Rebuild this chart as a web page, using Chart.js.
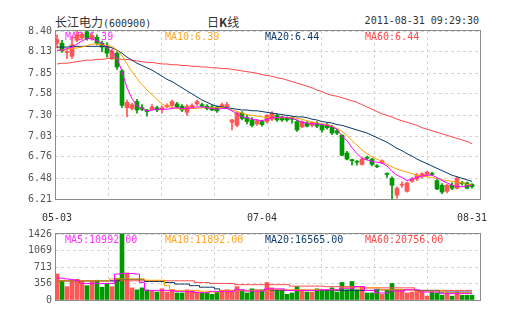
<!DOCTYPE html>
<html>
<head>
<meta charset="utf-8">
<script src="https://cdn.jsdelivr.net/npm/chart.js@4.4.1/dist/chart.umd.min.js"></script>
<style>
    body { margin: 0; background: #fff; width: 505px; height: 330px; overflow: hidden; position: relative; }
    #kbox { position: absolute; left: 0; top: 0; width: 505px; height: 225px; }
    #vbox { position: absolute; left: 0; top: 225px; width: 505px; height: 105px; }
    .t { position: absolute; color: #333; white-space: nowrap; line-height: 16px; }
    .cjk { font: 12px "Noto Sans CJK SC"; }
    .mono { font: 10px "DejaVu Sans Mono"; }
</style>
</head>
<body>
<div class="t cjk" style="left:55px; top:13px;">长江电力<span class="mono">(600900)</span></div>
<div class="t cjk" style="left:207px; top:13px;">日<b>K</b>线</div>
<div class="t mono" style="right:26px; top:15px;">2011-08-31 09:29:30</div>
<div id="kbox"><canvas id="kline"></canvas></div>
<div id="vbox"><canvas id="vol"></canvas></div>
<script>
// дневни свещи (05-03 .. 08-31)
const openP = [8.24,8.24,8.12,8.07,8.28,8.31,8.39,8.30,8.32,8.24, 8.20,8.05,8.11,7.88,7.40,7.39,7.48,7.40,7.37,7.38,
    7.40,7.38,7.41,7.43,7.45,7.42,7.34,7.41,7.45,7.44, 7.42,7.41,7.41,7.41,7.41,7.21,7.17,7.33,7.27,7.24,
    7.19,7.22,7.22,7.25,7.30,7.28,7.27,7.27,7.22,7.15, 7.20,7.17,7.20,7.17,7.18,7.15,7.10,7.04,6.81,6.72,
    6.70,6.66,6.75,6.73,6.64,6.68,6.54,6.48,6.26,6.39, 6.31,6.44,6.47,6.50,6.53,6.54,6.45,6.39,6.31,6.39,
    6.35,6.42,6.42,6.40];
const highP = [8.35,8.28,8.15,8.33,8.40,8.38,8.41,8.37,8.35,8.27, 8.25,8.16,8.13,7.90,7.50,7.46,7.51,7.44,7.38,7.44,
    7.42,7.42,7.45,7.50,7.47,7.44,7.44,7.45,7.50,7.46, 7.44,7.43,7.42,7.46,7.47,7.25,7.35,7.35,7.30,7.27,
    7.25,7.24,7.31,7.35,7.32,7.29,7.28,7.28,7.24,7.23, 7.22,7.22,7.22,7.18,7.20,7.17,7.12,7.05,6.83,6.73,
    6.71,6.75,6.77,6.74,6.66,6.72,6.55,6.50,6.37,6.43, 6.43,6.49,6.54,6.55,6.57,6.56,6.47,6.41,6.40,6.42,
    6.50,6.44,6.43,6.41];
const lowP = [8.18,8.12,8.04,8.04,8.26,8.29,8.28,8.28,8.22,8.13, 8.06,8.03,7.90,7.40,7.28,7.37,7.33,7.36,7.29,7.37,
    7.35,7.33,7.40,7.41,7.39,7.35,7.30,7.39,7.43,7.40, 7.37,7.36,7.34,7.39,7.40,7.11,7.15,7.24,7.19,7.15,
    7.17,7.16,7.20,7.23,7.22,7.22,7.22,7.20,7.09,7.14, 7.15,7.15,7.14,7.08,7.12,7.05,7.05,6.77,6.72,6.65,
    6.65,6.65,6.72,6.64,6.62,6.67,6.49,6.20,6.22,6.36, 6.30,6.43,6.45,6.48,6.51,6.52,6.33,6.28,6.29,6.33,
    6.34,6.39,6.34,6.35];
const closeP = [8.29,8.14,8.13,8.22,8.35,8.36,8.30,8.34,8.24,8.19, 8.11,8.14,7.93,7.43,7.47,7.44,7.37,7.38,7.35,7.41,
    7.37,7.40,7.43,7.48,7.41,7.37,7.42,7.43,7.48,7.42, 7.39,7.37,7.36,7.44,7.44,7.24,7.33,7.26,7.22,7.17,
    7.23,7.18,7.30,7.33,7.24,7.24,7.24,7.25,7.11,7.22, 7.16,7.21,7.16,7.11,7.14,7.07,7.07,6.78,6.73,6.71,
    6.69,6.73,6.74,6.66,6.63,6.71,6.53,6.39,6.35,6.40, 6.42,6.47,6.52,6.54,6.56,6.53,6.34,6.30,6.39,6.35,
    6.48,6.41,6.35,6.37];

// пълзящи средни на цената
const ma5 = [8.15,8.15,8.17,8.19,8.23,8.27,8.30,8.30,8.27,8.24, 8.18,8.13,8.05,7.87,7.66,7.52,7.42,7.39,7.36,7.37,
    7.38,7.38,7.38,7.39,7.40,7.39,7.39,7.40,7.41,7.41, 7.40,7.39,7.38,7.39,7.39,7.36,7.32,7.28,7.27,7.25,
    7.24,7.23,7.25,7.27,7.27,7.28,7.27,7.26,7.24,7.21, 7.20,7.19,7.19,7.18,7.17,7.15,7.12,7.03,6.97,6.88,
    6.80,6.74,6.72,6.70,6.69,6.68,6.64,6.57,6.52,6.49, 6.45,6.47,6.49,6.51,6.52,6.52,6.49,6.45,6.42,6.39,
    6.37,6.37,6.38,6.39];
const ma10 = [8.15,8.15,8.16,8.17,8.18,8.19,8.21,8.23,8.23,8.22, 8.21,8.20,8.15,8.08,7.97,7.87,7.78,7.70,7.63,7.57,
    7.51,7.45,7.42,7.40,7.39,7.38,7.39,7.39,7.39,7.40, 7.40,7.40,7.40,7.40,7.39,7.37,7.35,7.33,7.31,7.30,
    7.29,7.28,7.27,7.27,7.27,7.27,7.27,7.27,7.26,7.25, 7.23,7.21,7.20,7.19,7.18,7.16,7.13,7.09,7.04,6.97,
    6.91,6.85,6.80,6.76,6.73,6.70,6.66,6.63,6.60,6.58, 6.56,6.54,6.52,6.51,6.50,6.49,6.48,6.46,6.45,6.44,
    6.43,6.42,6.40,6.39];
const ma20 = [8.19,8.19,8.19,8.20,8.20,8.20,8.20,8.20,8.20,8.20, 8.20,8.18,8.15,8.11,8.06,8.02,7.98,7.95,7.92,7.89,
    7.85,7.81,7.77,7.74,7.70,7.66,7.62,7.58,7.54,7.50, 7.47,7.44,7.42,7.41,7.40,7.39,7.38,7.37,7.37,7.36,
    7.36,7.35,7.34,7.33,7.32,7.31,7.30,7.29,7.28,7.28, 7.27,7.25,7.24,7.22,7.21,7.20,7.18,7.17,7.15,7.13,
    7.11,7.09,7.07,7.04,7.01,6.98,6.95,6.91,6.87,6.84, 6.80,6.77,6.73,6.70,6.67,6.64,6.61,6.58,6.55,6.52,
    6.50,6.48,6.46,6.44];
const ma60 = [7.97,7.98,7.98,7.99,8.00,8.01,8.02,8.02,8.03,8.03, 8.04,8.04,8.04,8.03,8.03,8.02,8.01,8.00,7.99,7.99,
    7.98,7.97,7.97,7.96,7.96,7.95,7.95,7.94,7.94,7.93, 7.93,7.92,7.92,7.91,7.91,7.90,7.89,7.88,7.87,7.86,
    7.85,7.83,7.82,7.81,7.79,7.78,7.76,7.74,7.72,7.70, 7.68,7.66,7.63,7.61,7.58,7.56,7.55,7.53,7.51,7.49,
    7.47,7.44,7.41,7.38,7.35,7.32,7.30,7.28,7.25,7.23, 7.21,7.19,7.17,7.14,7.12,7.10,7.08,7.06,7.04,7.02,
    7.00,6.98,6.96,6.93];

// обем и средните му
const volume = [564,427,289,427,448,413,310,400,427,276, 358,289,468,1426,585,262,220,262,220,193,
    172,241,172,207,152,152,220,193,172,152, 152,124,172,207,220,172,289,220,152,241,
    220,220,379,262,220,220,124,152,289,220, 172,172,241,207,220,262,172,379,220,400,
    220,276,152,152,207,124,207,358,220,220, 152,172,207,207,83,172,152,103,138,83,
    172,103,103,103];
const volMa5 = [470,470,455,440,420,358,358,358,358,358, 358,358,560,572,572,572,560,380,207,207,
    207,207,207,207,186,186,186,186,159,159, 159,186,186,186,186,186,221,221,193,193,
    193,193,241,241,241,241,207,207,207,207, 207,207,207,221,221,221,221,255,255,255,
    289,289,207,207,152,152,152,193,193,193, 221,221,221,172,172,172,172,138,138,138,
    138,138,138,138];
const volMa10 = [413,413,413,413,413,413,413,413,413,413, 413,455,455,455,455,455,455,455,427,427,
    427,427,310,227,207,207,207,207,207,190, 190,172,172,207,207,207,207,207,207,207,
    207,207,207,221,221,221,221,221,221,221, 221,221,221,221,221,221,221,262,262,262,
    262,262,262,262,262,221,221,221,221,221, 221,221,193,193,193,193,193,193,152,152,
    152,152,152,152];
const volMa20 = [413,413,413,413,413,413,413,413,413,413, 413,413,413,448,448,448,448,448,400,400,
    400,400,378,378,345,345,345,310,310,276, 276,276,241,207,207,207,207,207,207,207,
    207,207,207,207,207,207,207,207,207,207, 207,207,207,207,207,207,207,207,207,207,
    207,207,207,207,221,221,221,221,221,221, 221,221,207,207,207,207,207,172,172,172,
    172,172,172,172];
const volMa60 = [415,415,415,415,415,415,415,415,415,415, 415,415,415,415,415,415,415,415,415,415,
    415,415,415,415,415,415,415,415,378,378, 378,358,358,358,358,358,331,331,331,331,
    331,331,331,331,331,331,331,300,300,300, 300,300,300,300,289,289,289,289,289,289,
    289,289,262,262,262,262,262,262,262,262, 262,262,207,207,207,207,207,207,207,207,
    207,207,207,207];

// надписи по осите и легендите
const priceTicks = [8.40, 8.13, 7.85, 7.58, 7.30, 7.03, 6.76, 6.48, 6.21];
const volTicks = [1426, 1069, 713, 356, 0];
const xTickIdx = [0, 41, 83];
const xTickLabels = ['05-03', '07-04', '08-31'];
const maTexts = ['MA5:6.39', 'MA10:6.39', 'MA20:6.44', 'MA60:6.44'];
const volMaTexts = ['MA5:10992.00', 'MA10:11892.00', 'MA20:16565.00', 'MA60:20756.00'];

const RED = '#ff5656';
const GREEN = '#009900';
const maColors = ['#ff00ff', '#ffa000', '#0c3866', '#ff4848'];
const textColors = ['#ff33ff', '#ffa628', '#0f3c6e', '#ff4848'];
const FONT = { family: 'DejaVu Sans Mono', size: 10 };

const candleColor = openP.map((o, i) => closeP[i] >= o ? RED : GREEN);
const pts = arr => arr.map((v, i) => ({ x: i, y: v }));

// пунктирна мрежа, рамка и легенда под данните
const chartDecor = {
    id: 'chartDecor',
    beforeDatasetsDraw(chart, args, opts) {
        const { ctx, chartArea: a } = chart;
        ctx.save();
        ctx.strokeStyle = '#d4d4d4';
        ctx.lineWidth = 1;
        ctx.setLineDash([3, 3]);
        for (let k = 1; k < 8; k++) {
            const x = Math.round(a.left + (a.right - a.left) * k / 8) + 0.5;
            ctx.beginPath();
            ctx.moveTo(x, a.top);
            ctx.lineTo(x, a.bottom);
            ctx.stroke();
        }
        ctx.setLineDash([]);
        ctx.strokeStyle = '#8c8c8c';
        ctx.strokeRect(a.left + 0.5, a.top - 0.5, a.right - a.left, a.bottom - a.top + 1);
        ctx.font = '10px "DejaVu Sans Mono"';
        ctx.textBaseline = 'middle';
        opts.texts.forEach((t, k) => {
            ctx.fillStyle = textColors[k];
            ctx.fillText(t, a.left + 10 + 100 * k, a.top + 6);
        });
        ctx.restore();
    }
};

function maLine(data, color, stepped) {
    return {
        type: 'line', data: pts(data), borderColor: color, borderWidth: 1,
        pointRadius: 0, tension: 0, stepped: stepped, order: 1
    };
}

function yAxis(min, max, ticks, fmt) {
    return {
        type: 'linear', min: min, max: max,
        afterBuildTicks: s => { s.ticks = ticks.map(v => ({ value: v })); },
        afterFit: s => { s.width = 55; },
        ticks: { font: FONT, color: '#555', padding: 3, callback: fmt },
        grid: { color: '#d4d4d4', drawTicks: false },
        border: { display: false, dash: [3, 3] }
    };
}

new Chart(document.getElementById('kline'), {
    type: 'bar',
    data: {
        datasets: [
            maLine(ma5, maColors[0], false),
            maLine(ma10, maColors[1], false),
            maLine(ma20, maColors[2], false),
            maLine(ma60, maColors[3], false),
            {
                data: lowP.map((l, i) => ({ x: i, y: [l, highP[i]] })),
                backgroundColor: candleColor, barThickness: 1, grouped: false, order: 2
            },
            {
                data: openP.map((o, i) => ({ x: i, y: [o, closeP[i]] })),
                backgroundColor: candleColor, barThickness: 4, minBarLength: 1, grouped: false, order: 2
            }
        ]
    },
    options: {
        responsive: true,
        maintainAspectRatio: false,
        animation: false,
        layout: { padding: { top: 31, right: 25, left: 0, bottom: 0 } },
        scales: {
            x: {
                type: 'linear', min: -0.4, max: 84.6, offset: false,
                afterBuildTicks: s => { s.ticks = xTickIdx.map(v => ({ value: v })); },
                afterFit: s => { s.height = 26; },
                ticks: {
                    font: FONT, color: '#333', padding: 13, maxRotation: 0, autoSkip: false,
                    callback: (v, i) => xTickLabels[i]
                },
                grid: { display: false, drawTicks: false, offset: false },
                border: { display: false }
            },
            y: yAxis(6.21, 8.40, priceTicks, v => v.toFixed(2))
        },
        plugins: {
            legend: { display: false },
            tooltip: { enabled: false },
            chartDecor: { texts: maTexts }
        }
    },
    plugins: [chartDecor]
});

new Chart(document.getElementById('vol'), {
    type: 'bar',
    data: {
        datasets: [
            maLine(volMa5, maColors[0], 'middle'),
            maLine(volMa10, maColors[1], 'middle'),
            maLine(volMa20, maColors[2], 'middle'),
            maLine(volMa60, maColors[3], 'middle'),
            {
                data: pts(volume),
                backgroundColor: candleColor, barThickness: 4, grouped: false, order: 2
            }
        ]
    },
    options: {
        responsive: true,
        maintainAspectRatio: false,
        animation: false,
        layout: { padding: { top: 6, right: 25, left: 0, bottom: 30 } },
        scales: {
            x: { type: 'linear', min: -0.4, max: 84.6, offset: false, display: false, grid: { offset: false } },
            y: yAxis(0, 1426, volTicks, v => String(v))
        },
        plugins: {
            legend: { display: false },
            tooltip: { enabled: false },
            chartDecor: { texts: volMaTexts }
        }
    },
    plugins: [chartDecor]
});
</script>
</body>
</html>
